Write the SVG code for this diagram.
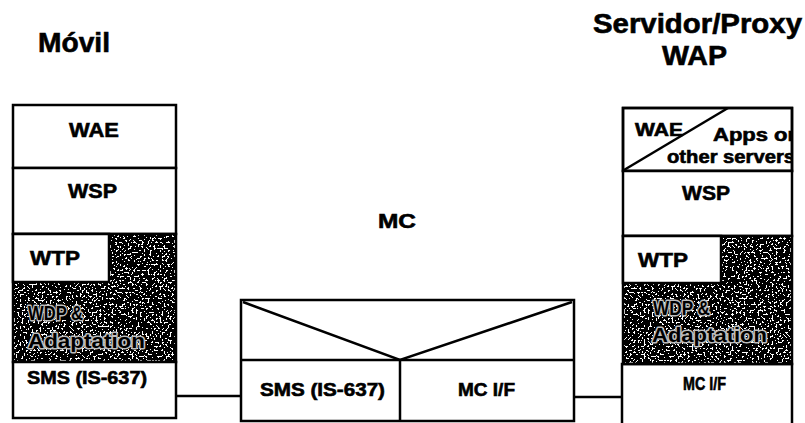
<svg xmlns="http://www.w3.org/2000/svg" width="805" height="423" viewBox="0 0 805 423">
<style>
  .box { fill: #fff; stroke: #000; stroke-width: 2.5; }
  .ln { fill: none; stroke: #000; stroke-width: 2.5; }
  .t { font-family: "Liberation Sans", Arial, sans-serif; font-weight: bold; fill: #000; stroke: #000; stroke-width: 0.6; }
  .title { font-size: 27px; }
  .lbl { font-size: 21px; }
  .sm { font-size: 18px; }
  .halo { font-size: 20px; stroke: #bdbdbd; stroke-width: 3; paint-order: stroke; stroke-linejoin: round; }
</style>
<defs>
  <filter id="stipple" x="0" y="0" width="1" height="1" filterUnits="objectBoundingBox">
    <feTurbulence type="fractalNoise" baseFrequency="0.5" numOctaves="2" seed="7" result="n"/>
    <feColorMatrix in="n" type="matrix" values="1 0 0 0 0  1 0 0 0 0  1 0 0 0 0  0 0 0 0 1" result="g"/>
    <feComponentTransfer in="g" result="b">
      <feFuncR type="discrete" tableValues="0 0 0 0 0 0 0 0 0 0 0 0 1 1 1 1 1 1 1 1"/>
      <feFuncG type="discrete" tableValues="0 0 0 0 0 0 0 0 0 0 0 0 1 1 1 1 1 1 1 1"/>
      <feFuncB type="discrete" tableValues="0 0 0 0 0 0 0 0 0 0 0 0 1 1 1 1 1 1 1 1"/>
    </feComponentTransfer>
    <feComposite in="b" in2="SourceGraphic" operator="in"/>
  </filter>
  <clipPath id="srvClip"><rect x="623" y="108" width="169" height="63"/></clipPath>
</defs>

<g id="titles">
  <text class="t title" x="38" y="52" textLength="72" lengthAdjust="spacingAndGlyphs" font-size="26">Móvil</text>
  <text class="t title" x="593" y="33" textLength="209" lengthAdjust="spacingAndGlyphs">Servidor/Proxy</text>
  <text class="t title" x="662" y="65" textLength="65" lengthAdjust="spacingAndGlyphs">WAP</text>
</g>

<g id="connectors">
  <line class="ln" x1="176" y1="396" x2="241" y2="396"/>
  <line class="ln" x1="574" y1="397" x2="622" y2="397"/>
</g>

<g id="movil">
  <rect class="box" x="13" y="105" width="163" height="63"/>
  <text class="t lbl" x="69" y="137" textLength="50" lengthAdjust="spacingAndGlyphs">WAE</text>
  <rect class="box" x="13" y="168" width="163" height="66"/>
  <text class="t lbl" x="68" y="198" textLength="49" lengthAdjust="spacingAndGlyphs">WSP</text>
  <rect x="13" y="234" width="163" height="128" fill="#000" filter="url(#stipple)"/>
  <rect class="ln" x="13" y="234" width="163" height="128"/>
  <rect class="box" x="13" y="234" width="96" height="48"/>
  <text class="t lbl" x="30" y="265" textLength="50" lengthAdjust="spacingAndGlyphs">WTP</text>
  <text class="t halo" x="28" y="320" textLength="55" lengthAdjust="spacingAndGlyphs">WDP &amp;</text>
  <text class="t halo" x="28" y="348" textLength="117" lengthAdjust="spacingAndGlyphs">Adaptation</text>
  <rect class="box" x="13" y="362" width="163" height="56"/>
  <text class="t sm" x="27" y="384" textLength="120" lengthAdjust="spacingAndGlyphs">SMS (IS-637)</text>
</g>

<g id="mc">
  <text class="t lbl" x="378" y="228" textLength="38" lengthAdjust="spacingAndGlyphs">MC</text>
  <rect class="box" x="241" y="300" width="333" height="121"/>
  <polyline class="ln" points="243,302 400,360 572,302"/>
  <line class="ln" x1="241" y1="360" x2="574" y2="360"/>
  <line class="ln" x1="400" y1="360" x2="400" y2="421"/>
  <text class="t sm" x="260" y="396" textLength="125" lengthAdjust="spacingAndGlyphs">SMS (IS-637)</text>
  <text class="t sm" x="458" y="396" textLength="57" lengthAdjust="spacingAndGlyphs">MC I/F</text>
</g>

<g id="servidor">
  <rect class="box" x="623" y="108" width="169" height="63"/>
  <line class="ln" x1="624" y1="170" x2="728" y2="108"/>
  <text class="t sm" x="635" y="136" textLength="48" lengthAdjust="spacingAndGlyphs">WAE</text>
  <g clip-path="url(#srvClip)">
    <text class="t sm" x="713" y="141" textLength="88" lengthAdjust="spacingAndGlyphs">Apps on</text>
    <text class="t sm" x="667" y="163" font-size="17" textLength="128" lengthAdjust="spacingAndGlyphs">other servers</text>
  </g>
  <rect class="ln" x="623" y="108" width="169" height="63"/>
  <rect class="box" x="623" y="171" width="169" height="65"/>
  <text class="t lbl" x="682" y="200" textLength="48" lengthAdjust="spacingAndGlyphs">WSP</text>
  <rect x="623" y="236" width="169" height="128" fill="#000" filter="url(#stipple)"/>
  <rect class="ln" x="623" y="236" width="169" height="128"/>
  <rect class="box" x="623" y="236" width="98" height="47"/>
  <text class="t lbl" x="638" y="267" textLength="50" lengthAdjust="spacingAndGlyphs">WTP</text>
  <text class="t halo" x="653" y="315" textLength="57" lengthAdjust="spacingAndGlyphs">WDP &amp;</text>
  <text class="t halo" x="652" y="342" textLength="115" lengthAdjust="spacingAndGlyphs">Adaptation</text>
  <path class="ln" d="M622,430 V364 H792 V430"/>
  <text class="t sm" x="683" y="390" font-size="17" textLength="43" lengthAdjust="spacingAndGlyphs">MC I/F</text>
</g>
</svg>
